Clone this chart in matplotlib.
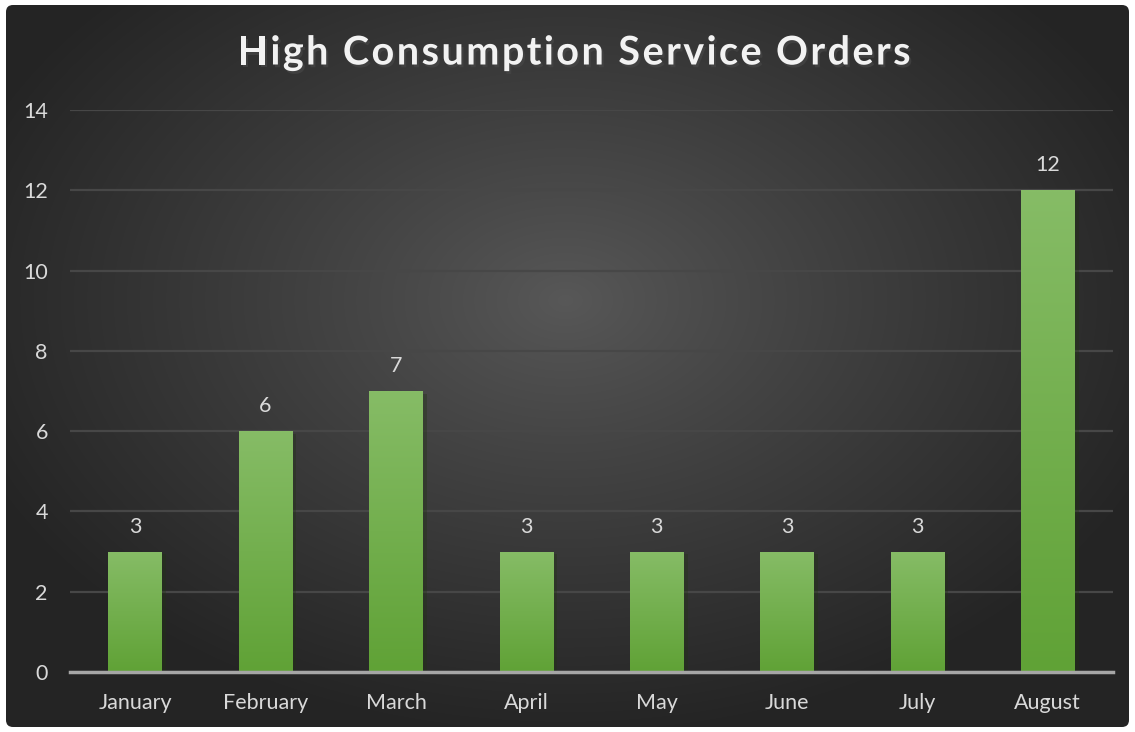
"""
High consumption service orders by month
"""

import numpy as np
import matplotlib.pyplot as plt
from matplotlib.patches import FancyBboxPatch
from matplotlib import patheffects as pe

months = ["January", "February", "March", "April", "May", "June", "July", "August"]
orders = [3, 6, 7, 3, 3, 3, 3, 12]
y_ticks = [0, 2, 4, 6, 8, 10, 12, 14]
title = "High Consumption Service Orders"

W, H = 1135, 732
FONT = "Lato"
TXT = "#D9D9D9"
FS = 15.5


def spaced_text(fig, s, xc, y, spacing, **kw):
    # matplotlib has no letter spacing, so place the letters one by one
    r = fig.canvas.get_renderer()

    def width(txt):
        t = fig.text(0, 0, txt, **kw)
        w = t.get_window_extent(r).width
        t.remove()
        return w

    base = width("ll")
    adv = [width("l" + ch + "l") - base + spacing for ch in s]
    total = sum(adv) - spacing
    x = xc - total / 2
    for ch, a in zip(s, adv):
        fig.text(x / W, y / H, ch, ha="left", va="center", **kw)
        x += a


fig = plt.figure(figsize=(W / 100, H / 100), dpi=100)
fig.patch.set_facecolor("white")

# background panel with radial gradient
bg = fig.add_axes([0, 0, 1, 1])
bg.set_xlim(0, W)
bg.set_ylim(H, 0)
bg.axis("off")
yy, xx = np.mgrid[0:H, 0:W]
rad = np.clip(np.hypot((xx - 565) / 640, (yy - 300) / 440), 0, 1) ** 0.9
col = (0x58 * (1 - rad) + 0x24 * rad) / 255
panel = FancyBboxPatch((6, 5), W - 12, H - 10,
                       boxstyle="round,pad=0,rounding_size=7",
                       facecolor="none", edgecolor="none")
bg.add_patch(panel)
im = bg.imshow(np.dstack([col, col, col]), extent=(0, W, H, 0),
               interpolation="bilinear")
im.set_clip_path(panel)

# plot area
x0, x1, yb, yt = 70, 1113, 672, 110
ax = fig.add_axes([x0 / W, (H - yb) / H, (x1 - x0) / W, (yb - yt) / H])
ax.patch.set_alpha(0)
x = np.arange(len(months))
bars = ax.bar(x, orders, width=0.41, color="#70AD47", zorder=3,
              path_effects=[pe.SimplePatchShadow(offset=(3, -2), alpha=0.35),
                            pe.Normal()])

grad = np.linspace(0, 1, 100)[:, None]
c_top = np.array([0x86, 0xBC, 0x66]) / 255
c_bot = np.array([0x60, 0xA2, 0x36]) / 255
gimg = c_top[None, None, :] * (1 - grad[:, :, None]) + c_bot[None, None, :] * grad[:, :, None]
for b in bars:
    gi = ax.imshow(gimg, extent=(b.get_x(), b.get_x() + b.get_width(), 0, b.get_height()),
                   aspect="auto", zorder=4, interpolation="bilinear")
    gi.set_clip_path(b)

for xi, v in zip(x, orders):
    ax.annotate(str(v), (xi, v), xytext=(0, 18), textcoords="offset points",
                ha="center", va="center", color=TXT, fontsize=FS, family=FONT)

ax.set_xlim(-0.5, len(months) - 0.5)
ax.set_ylim(0, 14)
ax.set_yticks(y_ticks)
ax.set_xticks(x)
ax.set_xticklabels(months)
ax.tick_params(length=0, colors=TXT, labelsize=FS)
ax.tick_params(axis="y", pad=16)
ax.tick_params(axis="x", pad=15)
for lab in ax.get_xticklabels() + ax.get_yticklabels():
    lab.set_family(FONT)
ax.grid(axis="y", color="#474747", lw=1.6, zorder=0)
for s in ["top", "left", "right"]:
    ax.spines[s].set_visible(False)
ax.spines["bottom"].set_color("#A6A6A6")
ax.spines["bottom"].set_linewidth(2.5)
ax.spines["bottom"].set_zorder(5)

spaced_text(fig, title, 574, H - 53, 2.4, fontsize=28.5, fontweight="bold",
            family=FONT, color="#F2F2F2",
            path_effects=[pe.SimplePatchShadow(offset=(1.5, -2), alpha=0.6),
                          pe.Normal()])

plt.savefig("out.png", dpi=100)
